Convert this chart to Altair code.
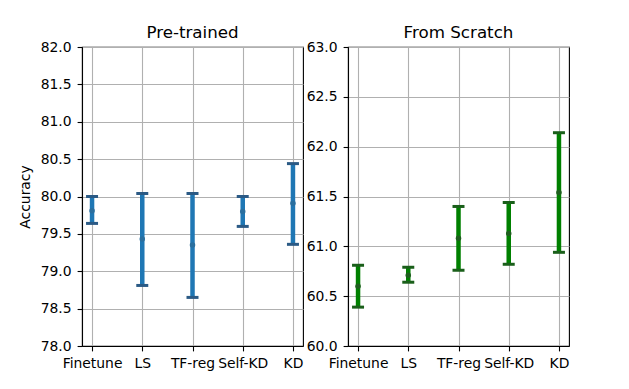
import altair as alt
import pandas as pd

methods = ["Finetune", "LS", "TF-reg", "Self-KD", "KD"]

pre_mean = [79.81, 79.43, 79.35, 79.80, 79.91]
pre_low = [79.64, 78.81, 78.65, 79.60, 79.36]
pre_high = [80.00, 80.04, 80.04, 80.00, 80.44]

scr_mean = [60.60, 60.71, 61.08, 61.13, 61.54]
scr_low = [60.39, 60.64, 60.76, 60.82, 60.94]
scr_high = [60.81, 60.79, 61.40, 61.44, 62.14]

pre_ticks = [78.0, 78.5, 79.0, 79.5, 80.0, 80.5, 81.0, 81.5, 82.0]
scr_ticks = [60.0, 60.5, 61.0, 61.5, 62.0, 62.5, 63.0]

FONT = "DejaVu Sans"
W, H = 221, 299


def panel(mean, low, high, title, domain, ticks, bar_color, cap_color, pt_color, ytitle):
    df = pd.DataFrame({"method": methods, "mean": mean, "low": low, "high": high})
    x = alt.X("method:N", sort=methods, scale=alt.Scale(type="point", padding=0.2),
              axis=alt.Axis(title=None, labelAngle=0, grid=True))
    if ytitle:
        yaxis = alt.Axis(values=ticks, format=".1f", grid=True, title=ytitle,
                         labelOverlap=False, tickCount=len(ticks))
    else:
        yaxis = alt.Axis(values=ticks, format=".1f", grid=True, title=None,
                         labelOverlap=False, tickCount=len(ticks))
    yscale = alt.Scale(domain=domain, nice=False, zero=False)
    base = alt.Chart(df)
    bar = base.mark_rule(color=bar_color, strokeWidth=4.5).encode(
        x=x, y=alt.Y("low:Q", scale=yscale, axis=yaxis), y2="high:Q")
    cap_lo = base.mark_tick(color=cap_color, size=12, thickness=3, opacity=1).encode(
        x=x, y=alt.Y("low:Q", scale=yscale, axis=yaxis))
    cap_hi = base.mark_tick(color=cap_color, size=12, thickness=3, opacity=1).encode(
        x=x, y=alt.Y("high:Q", scale=yscale, axis=yaxis))
    pt = base.mark_point(filled=True, color=pt_color, size=30, opacity=1).encode(
        x=x, y=alt.Y("mean:Q", scale=yscale, axis=yaxis))
    return alt.layer(bar, cap_lo, cap_hi, pt).properties(
        width=W, height=H,
        title=alt.TitleParams(title, fontSize=16.7, font=FONT, fontWeight="normal",
                              color="black", offset=-2))


left = panel(pre_mean, pre_low, pre_high, "Pre-trained", [78, 82], pre_ticks,
             "#1f77b4", "#2b5a85", "#2a6f9f", "Accuracy")
right = panel(scr_mean, scr_low, scr_high, "From Scratch", [60, 63], scr_ticks,
              "#008000", "#1a5f1a", "#1e5e1e", None)

chart = alt.hconcat(left, right, spacing=45, bounds="flush").properties(
    padding={"left": 10, "top": 16, "right": 5, "bottom": 5},
    background="white"
).configure_view(
    stroke="black", strokeWidth=1.1
).configure_axis(
    labelFont=FONT, labelFontSize=13.9, labelColor="black",
    titleFont=FONT, titleFontSize=13.9, titleFontWeight="normal", titleColor="black",
    titlePadding=7.5,
    tickColor="black", tickSize=4.9, tickWidth=1.1, labelPadding=6,
    domainColor="black", domainWidth=1.1,
    gridColor="#b0b0b0", gridWidth=1.1, labelFlush=False, labelOverlap=False
)

chart.save("out.html", embed_options={"renderer": "svg", "actions": False})
